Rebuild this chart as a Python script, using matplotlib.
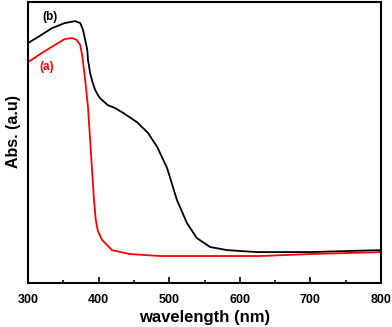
import matplotlib
matplotlib.use("Agg")
import matplotlib.pyplot as plt
from matplotlib.ticker import MultipleLocator

plt.rcParams["font.family"] = ["Liberation Sans", "DejaVu Sans"]
plt.rcParams["font.weight"] = "bold"

# curve (b), black
wl_b = [300, 314, 334, 352, 367, 374, 378, 381, 384, 385, 388, 391, 395, 399,
        402, 413, 423, 435, 454, 470, 483, 497, 511, 525, 539, 558, 582, 624,
        700, 800]
abs_b = [0.854, 0.875, 0.907, 0.925, 0.932, 0.925, 0.900, 0.865, 0.829, 0.794,
         0.747, 0.718, 0.688, 0.669, 0.658, 0.633, 0.623, 0.605, 0.573, 0.534,
         0.484, 0.409, 0.295, 0.214, 0.160, 0.128, 0.117, 0.110, 0.110, 0.117]
# curve (a), red
wl_a = [300, 320, 338, 352, 362, 369, 374, 377, 381, 385, 388, 391, 393.5,
        396, 399, 405, 419, 444, 487, 629, 700, 800]
abs_a = [0.786, 0.819, 0.847, 0.868, 0.872, 0.865, 0.847, 0.806, 0.722, 0.626,
         0.509, 0.391, 0.295, 0.224, 0.185, 0.153, 0.117, 0.103, 0.096, 0.096,
         0.103, 0.110]

fig = plt.figure(figsize=(3.92, 3.27), dpi=100)
ax = fig.add_axes([0.0714, 0.1346, 0.9006, 0.8593])

ax.plot(wl_b, abs_b, color="black", linewidth=1.3)
ax.plot(wl_a, abs_a, color="#ff0000", linewidth=1.3)

ax.text(320, 0.947, "(b)", color="black", fontsize=8.5, fontweight="bold",
        va="center")
ax.text(316, 0.769, "(a)", color="#ff0000", fontsize=8.5, fontweight="bold",
        va="center")

ax.set_xlim(300, 800)
ax.set_ylim(0, 1)
ax.xaxis.set_major_locator(MultipleLocator(100))
ax.xaxis.set_minor_locator(MultipleLocator(50))
ax.set_yticks([])
ax.tick_params(axis="x", which="major", direction="in", length=4, width=1.2,
               labelsize=9, pad=8)
ax.tick_params(axis="x", which="minor", direction="in", length=2, width=1.2)
for sp in ax.spines.values():
    sp.set_linewidth(1.5)

ax.set_xlabel("wavelength (nm)", fontsize=12, fontweight="bold", labelpad=3)
ax.set_ylabel("Abs. (a.u)", fontsize=11.5, fontweight="bold")
ax.yaxis.set_label_coords(-0.02, 0.54)

fig.savefig("out.png", dpi=100)
